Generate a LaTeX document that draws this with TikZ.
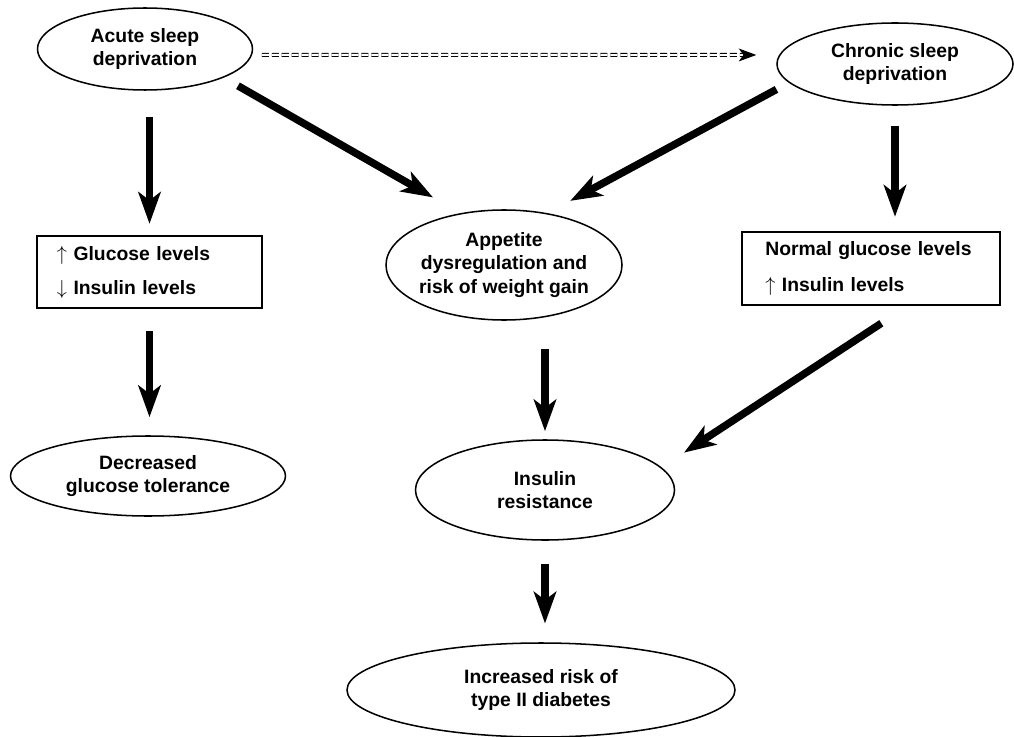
\documentclass[tikz,border=0pt]{standalone}
\usepackage{fontspec}
\setmainfont{Liberation Sans}
\usetikzlibrary{shapes.geometric,arrows.meta}
\begin{document}
\begin{tikzpicture}[x=0.03cm,y=-0.03cm,
  bubble/.style={ellipse,draw,line width=1.3pt,inner sep=-3cm,align=center,font=\bfseries\fontsize{16.5}{20}\selectfont},
  infobox/.style={rectangle,draw,line width=2pt,align=left,font=\bfseries\fontsize{16.5}{20}\selectfont},
  bigarrow/.style={line width=6.4pt,-{Stealth[length=27pt,width=19pt,inset=7pt]}},
  dasharrow/.style={double,double distance=1.6pt,line width=0.9pt,dash pattern=on 6pt off 2.5pt,-{Stealth[length=15pt,width=11pt,inset=4pt]}}]
\useasboundingbox (0,0) rectangle (1014,737);
% sleep loss
\node[bubble,minimum width=6.45cm,minimum height=2.46cm] (acute) at (145,49) {Acute sleep\\deprivation};
\node[bubble,minimum width=7.08cm,minimum height=2.46cm] (chronic) at (895,64) {Chronic sleep\\deprivation};
% middle row
\node[infobox,minimum height=2.16cm,text width=5.55cm,inner xsep=0.6cm] (acutelevels) at (149.5,272) {$\uparrow$ Glucose levels\\[9pt]$\downarrow$ Insulin levels};
\node[bubble,minimum width=7.08cm,minimum height=3.3cm] (appetite) at (504,265) {Appetite\\dysregulation and\\risk of weight gain};
\node[infobox,minimum height=2.19cm,text width=6.34cm,inner xsep=0.7cm] (chroniclevels) at (871,268.5) {Normal glucose levels\\[10pt]$\uparrow$ Insulin levels};
% outcomes
\node[bubble,minimum width=8.25cm,minimum height=2.4cm] (tolerance) at (148,476) {Decreased\\glucose tolerance};
\node[bubble,minimum width=7.77cm,minimum height=3cm] (resistance) at (545,490) {Insulin\\resistance};
\node[bubble,minimum width=11.64cm,minimum height=2.82cm] (diabetes) at (541,690) {Increased risk of\\type II diabetes};
% arrows
\draw[dasharrow,shorten <=7.3pt,shorten >=17pt] ([yshift=-5pt]acute.east) -- ([yshift=7.7pt]chronic.west);
\draw[bigarrow,shorten <=22pt,shorten >=9.4pt] (acutelevels.north |- acute.south) -- (acutelevels.north);
\draw[bigarrow,shorten <=18.8pt,shorten >=15.4pt] (acutelevels.south) -- (acutelevels.south |- tolerance.north);
\draw[bigarrow,shorten <=17pt,shorten >=12pt] (chronic.south) -- (chronic.south |- chroniclevels.north);
\draw[bigarrow,shorten <=24pt,shorten >=6.8pt] (resistance.north |- appetite.south) -- (resistance.north);
\draw[bigarrow,shorten <=19.6pt,shorten >=16pt] (resistance.south) -- (resistance.south |- diabetes.north);
\draw[bigarrow,shorten <=14pt,shorten >=27pt] (acute.-20) -- (appetite.130);
\draw[bigarrow,shorten <=12pt,shorten >=22pt] (chronic.190) -- (appetite.50);
\draw[bigarrow,shorten <=26.6pt,shorten >=22.9pt] (chroniclevels.-46) -- (resistance.11);
\end{tikzpicture}
\end{document}
